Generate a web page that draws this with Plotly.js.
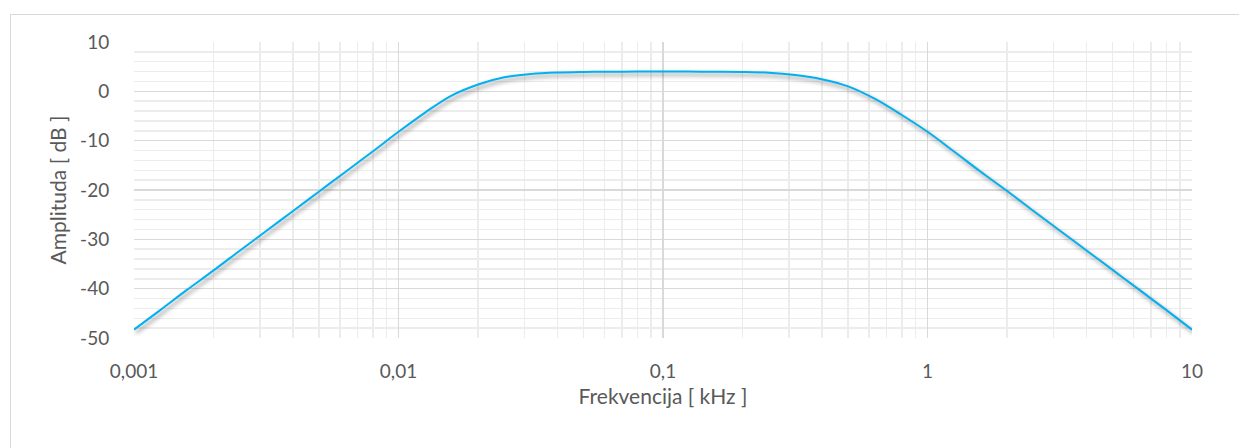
<!DOCTYPE html>
<html>
<head>
<meta charset="utf-8">
<script src="https://cdn.plot.ly/plotly-3.0.1.min.js"></script>
<style>
  html, body { margin: 0; padding: 0; background: #fff; overflow: hidden; }
  #chart { width: 1239px; height: 448px; }
  #frame { position: absolute; left: 10px; top: 14px; width: 1300px; height: 500px;
           border: 1px solid #d9d9d9; pointer-events: none; }
  #chart .scatterlayer .trace path.js-line {
    filter: drop-shadow(2px 3px 2px rgba(0,0,0,0.45));
  }
</style>
</head>
<body>
<div id="chart"></div>
<div id="frame"></div>
<script>
// Frequency [kHz]
var frequency = [0.001, 0.00126, 0.00158, 0.002, 0.00251, 0.00316, 0.00398, 0.00501, 0.00631, 0.00794,
  0.01, 0.0126, 0.0158, 0.02, 0.0251, 0.0316, 0.0398, 0.0501, 0.0631, 0.0794,
  0.1, 0.126, 0.158, 0.2, 0.251, 0.316, 0.398, 0.501, 0.631, 0.794,
  1, 1.26, 1.58, 2, 2.51, 3.16, 3.98, 5.01, 6.31, 7.94, 10];
// Amplitude [dB]
var amplitude = [-48.3, -44.3, -40.3, -36.3, -32.3, -28.3, -24.3, -20.3, -16.3, -12.3,
  -8.2, -4.3, -0.9, 1.4, 2.85, 3.5, 3.8, 3.92, 3.97, 4.0,
  4.0, 4.0, 3.98, 3.94, 3.78, 3.3, 2.45, 1.0, -1.5, -4.7,
  -8.2, -12.2, -16.2, -20.2, -24.2, -28.2, -32.2, -36.2, -40.2, -44.2, -48.3];
var xTickVals = [0.001, 0.01, 0.1, 1, 10];
var xTickText = ["0,001", "0,01", "0,1", "1", "10"];
var yTickVals = [10, 0, -10, -20, -30, -40, -50];
var yTickText = ["10", "0", "-10", "-20", "-30", "-40", "-50"];

var tickFont = { family: "Lato, 'Open Sans', sans-serif", size: 19, color: "#595959" };
var titleFont = { family: "Lato, 'Open Sans', sans-serif", size: 21, color: "#595959" };

var trace = {
  x: frequency, y: amplitude, type: "scatter", mode: "lines",
  line: { color: "#00B0F0", width: 2, shape: "spline", smoothing: 1 },
  hoverinfo: "skip"
};

var layout = {
  width: 1239, height: 448,
  margin: { l: 134, r: 47, t: 42, b: 110 },
  paper_bgcolor: "rgba(0,0,0,0)", plot_bgcolor: "#fff",
  showlegend: false,
  font: tickFont,
  xaxis: {
    type: "log", range: [-3, 1], tickmode: "array", tickvals: xTickVals, ticktext: xTickText,
    showgrid: true, gridcolor: "#d9d9d9", gridwidth: 1.5, zeroline: false, showline: false,
    ticks: "outside", ticklen: 16, tickcolor: "rgba(0,0,0,0)", tickfont: tickFont,
    minor: { showgrid: true, gridcolor: "#ececec", gridwidth: 1.5, dtick: "D1", ticks: "" },
    title: { text: "Frekvencija [ kHz ]", font: titleFont, standoff: 8 }
  },
  yaxis: {
    range: [-50, 10], tickmode: "array", tickvals: yTickVals, ticktext: yTickText,
    showgrid: true, gridcolor: "#d9d9d9", gridwidth: 1.5, zeroline: false, showline: false,
    ticks: "outside", ticklen: 20, tickcolor: "rgba(0,0,0,0)", tickfont: tickFont,
    minor: { showgrid: true, gridcolor: "#ececec", gridwidth: 1.5, dtick: 2, ticks: "" },
    title: { text: "Amplituda [ dB ]", font: titleFont, standoff: 7 }
  }
};

Plotly.newPlot("chart", [trace], layout, { staticPlot: true, displayModeBar: false });
</script>
</body>
</html>
